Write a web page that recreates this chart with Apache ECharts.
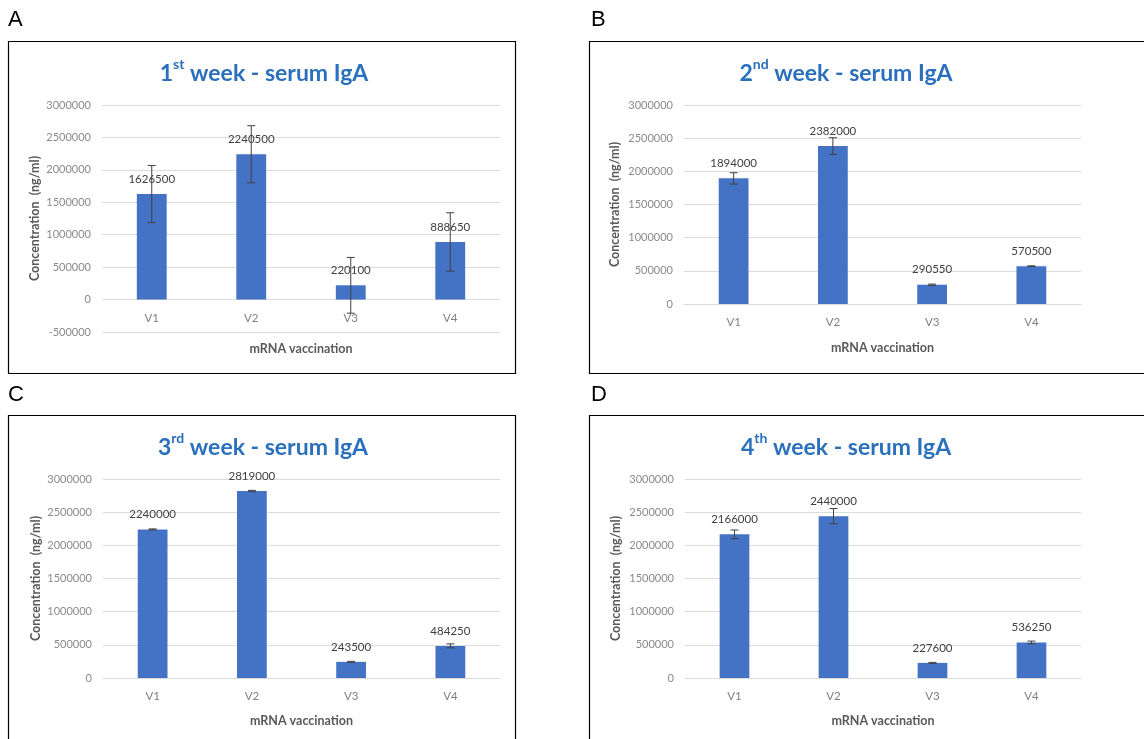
<!DOCTYPE html>
<html>
<head>
<meta charset="utf-8">
<script src="https://cdn.jsdelivr.net/npm/echarts@6/dist/echarts.min.js"></script>
<style>
  html, body { margin: 0; padding: 0; background: #fff; }
  #main { width: 1144px; height: 739px; }
</style>
</head>
<body>
<div id="main"></div>
<script>
// data
var categories = ['V1', 'V2', 'V3', 'V4'];
var week1 = [1626500, 2240500, 220100, 888650];
var week1Err = [440000, 440000, 430000, 450000];
var week2 = [1894000, 2382000, 290550, 570500];
var week2Err = [85000, 125000, 10000, 5000];
var week3 = [2240000, 2819000, 243500, 484250];
var week3Err = [8000, 10000, 8000, 30000];
var week4 = [2166000, 2440000, 227600, 536250];
var week4Err = [65000, 115000, 8000, 20000];
var yTicksMin = [-500000, 0, 0, 0];
var panelLetters = ['A', 'B', 'C', 'D'];
var titleSup = ['st', 'nd', 'rd', 'th'];

var FONT = 'Lato, "Open Sans", sans-serif';
var values = [week1, week2, week3, week4];
var errs = [week1Err, week2Err, week3Err, week4Err];

// panel layout (px)
var grids = [
  { left: 102, top: 105, width: 398, height: 227 },
  { left: 684, top: 105, width: 397, height: 199 },
  { left: 103, top: 479, width: 397, height: 199 },
  { left: 685, top: 479, width: 396, height: 199 }
];
var titlePos = [[259, 52], [841, 52], [258, 426], [841, 426]];
var boxes = [[8, 41, 507, 332], [589, 41, 570, 332], [8, 415, 507, 340], [589, 415, 570, 340]];
var letterPos = [[8, 20], [591, 20], [8, 395], [591, 395]];
// panel A has a negative range, its category labels sit just under the zero line
var xLabelMargin = [-20, 12, 12, 12];
var xNameGap = [10, 37, 36, 36];

var myChart = echarts.init(document.getElementById('main'));

var title = [], xAxis = [], yAxis = [], series = [], graphic = [];

for (var i = 0; i < 4; i++) {
  title.push({
    text: '{n|' + (i + 1) + '}{s|' + titleSup[i] + '}{n| week - serum IgA}',
    left: titlePos[i][0],
    top: titlePos[i][1],
    textAlign: 'center',
    textStyle: {
      rich: {
        n: { fontFamily: FONT, fontWeight: 'bold', fontSize: 23, color: '#2a70bd', lineHeight: 28, verticalAlign: 'bottom' },
        s: { fontFamily: FONT, fontWeight: 'bold', fontSize: 14, color: '#2a70bd', lineHeight: 28, verticalAlign: 'top' }
      }
    }
  });

  xAxis.push({
    type: 'category',
    gridIndex: i,
    data: categories,
    name: 'mRNA vaccination',
    nameLocation: 'middle',
    nameGap: xNameGap[i],
    nameTextStyle: { fontFamily: FONT, fontWeight: 'bold', fontSize: 12.5, color: '#595959' },
    axisLine: { show: i !== 0, onZero: false, lineStyle: { color: '#d9d9d9' } },
    axisTick: { show: false },
    axisLabel: { fontFamily: FONT, fontSize: 11.5, color: '#7f7f7f', margin: xLabelMargin[i] }
  });

  yAxis.push({
    type: 'value',
    gridIndex: i,
    min: yTicksMin[i],
    max: 3000000,
    interval: 500000,
    name: 'Concentration  (ng/ml)',
    nameLocation: 'middle',
    nameGap: i % 2 === 0 ? 61 : 63,
    nameTextStyle: { fontFamily: FONT, fontWeight: 'bold', fontSize: 12.5, color: '#595959' },
    axisLine: { show: false },
    axisTick: { show: false },
    splitLine: { lineStyle: { color: '#dcdcdc' } },
    axisLabel: {
      fontFamily: FONT, fontSize: 11, color: '#8a8a8a', margin: 11,
      formatter: function (v) { return String(v); }
    }
  });

  series.push({
    type: 'bar',
    xAxisIndex: i,
    yAxisIndex: i,
    data: values[i],
    barWidth: '30%',
    itemStyle: { color: '#4472c4' },
    label: {
      show: true,
      position: 'top',
      distance: 9,
      fontFamily: FONT,
      fontSize: 11.5,
      color: '#404040'
    }
  });

  var errData = values[i].map(function (v, k) { return [k, v, errs[i][k]]; });
  series.push({
    type: 'custom',
    xAxisIndex: i,
    yAxisIndex: i,
    z: 5,
    data: errData,
    renderItem: function (params, api) {
      var x = api.value(0), v = api.value(1), e = api.value(2);
      var hi = api.coord([x, v + e]);
      var lo = api.coord([x, v - e]);
      var cap = 4;
      var st = { stroke: '#404040', lineWidth: 1 };
      return {
        type: 'group',
        children: [
          { type: 'line', shape: { x1: hi[0], y1: hi[1], x2: lo[0], y2: lo[1] }, style: st },
          { type: 'line', shape: { x1: hi[0] - cap, y1: hi[1], x2: hi[0] + cap, y2: hi[1] }, style: st },
          { type: 'line', shape: { x1: lo[0] - cap, y1: lo[1], x2: lo[0] + cap, y2: lo[1] }, style: st }
        ]
      };
    }
  });

  graphic.push({
    type: 'rect',
    shape: { x: boxes[i][0] + 0.5, y: boxes[i][1] + 0.5, width: boxes[i][2], height: boxes[i][3] },
    style: { fill: 'none', stroke: '#000', lineWidth: 1.2 },
    silent: true
  });
  graphic.push({
    type: 'text',
    x: letterPos[i][0],
    y: letterPos[i][1],
    style: {
      text: panelLetters[i],
      fontFamily: '"Liberation Sans", sans-serif',
      fontSize: 22,
      fill: '#000',
      verticalAlign: 'middle'
    }
  });
}

var option = {
  backgroundColor: '#fff',
  animation: false,
  title: title,
  grid: grids,
  xAxis: xAxis,
  yAxis: yAxis,
  series: series,
  graphic: graphic
};

myChart.setOption(option);
</script>
</body>
</html>
